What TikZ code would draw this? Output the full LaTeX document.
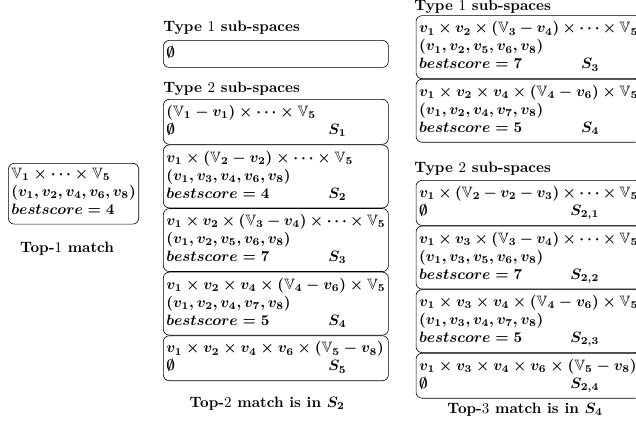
\documentclass[tikz,border=0pt]{standalone}
\usepackage{amsmath,amssymb}
\usepackage{tikz}
\usetikzlibrary{positioning}

% bestscore line with the sub-space name pushed to the right
\newcommand{\sublabel}[2]{\makebox[120pt][l]{#1}\llap{$#2$}}

\begin{document}
\begin{tikzpicture}[
  spacebox/.style={draw, rounded corners=4pt, inner xsep=2pt, inner ysep=3pt, text width=146pt, align=left, anchor=north west, font=\boldmath, execute at begin node=\strut, execute at end node=\strut},
  matchbox/.style={draw, rounded corners=4pt, inner xsep=2pt, inner ysep=3pt, align=left, anchor=north west, font=\boldmath, execute at begin node=\strut, execute at end node=\strut},
  typetext/.style={font=\bfseries, anchor=west, inner sep=0pt},
  captext/.style={font=\bfseries}
]
\useasboundingbox (0,0) rectangle (14.90,10.08);

% Top-1 match
\node[matchbox] (top1) at (0.19, 6.26) {$\mathbb{V}_1 \times \cdots \times \mathbb{V}_5$\\
  $(v_1, v_2, v_4, v_6, v_8)$\\
  $bestscore = 4$};
\node[captext] (cap1) at (1.57, 4.26) {Top-$1$ match};

% Sub-spaces of the top-1 match
\node[typetext] (mtype1) at (3.82, 9.42) {Type $1$ sub-spaces};
\node[spacebox] (mempty) at (3.82, 9.14) {$\emptyset$};

\node[typetext] (mtype2) at (3.82, 8.01) {Type $2$ sub-spaces};
\node[spacebox] (s1) at (3.82, 7.76) {$(\mathbb{V}_1 - v_1) \times \cdots \times \mathbb{V}_5$\\
  \sublabel{$\emptyset$}{S_1}};
\node[spacebox, below=0pt of s1] (s2) {$v_1 \times (\mathbb{V}_2 - v_2) \times \cdots \times \mathbb{V}_5$\\
  $(v_1, v_3, v_4, v_6, v_8)$\\
  \sublabel{$bestscore = 4$}{S_2}};
\node[spacebox, below=0pt of s2] (s3) {$v_1 \times v_2 \times (\mathbb{V}_3 - v_4) \times \cdots \times \mathbb{V}_5$\\
  $(v_1, v_2, v_5, v_6, v_8)$\\
  \sublabel{$bestscore = 7$}{S_3}};
\node[spacebox, below=0pt of s3] (s4) {$v_1 \times v_2 \times v_4 \times (\mathbb{V}_4 - v_6) \times \mathbb{V}_5$\\
  $(v_1, v_2, v_4, v_7, v_8)$\\
  \sublabel{$bestscore = 5$}{S_4}};
\node[spacebox, below=0pt of s4] (s5) {$v_1 \times v_2 \times v_4 \times v_6 \times (\mathbb{V}_5 - v_8)$\\
  \sublabel{$\emptyset$}{S_5}};
\node[captext] (cap2) at (6.26, 0.63) {Top-$2$ match is in $\boldsymbol{S_2}$};

% Sub-spaces of the top-2 match
\node[typetext] (rtype1) at (9.70, 9.93) {Type $1$ sub-spaces};
\node[spacebox] (r3) at (9.74, 9.72) {$v_1 \times v_2 \times (\mathbb{V}_3 - v_4) \times \cdots \times \mathbb{V}_5$\\
  $(v_1, v_2, v_5, v_6, v_8)$\\
  \sublabel{$bestscore = 7$}{S_3}};
\node[spacebox, below=0pt of r3] (r4) {$v_1 \times v_2 \times v_4 \times (\mathbb{V}_4 - v_6) \times \mathbb{V}_5$\\
  $(v_1, v_2, v_4, v_7, v_8)$\\
  \sublabel{$bestscore = 5$}{S_4}};

\node[typetext] (rtype2) at (9.70, 6.12) {Type $2$ sub-spaces};
\node[spacebox] (r21) at (9.74, 5.86) {$v_1 \times (\mathbb{V}_2 - v_2 - v_3) \times \cdots \times \mathbb{V}_5$\\
  \sublabel{$\emptyset$}{S_{2,1}}};
\node[spacebox, below=0pt of r21] (r22) {$v_1 \times v_3 \times (\mathbb{V}_3 - v_4) \times \cdots \times \mathbb{V}_5$\\
  $(v_1, v_3, v_5, v_6, v_8)$\\
  \sublabel{$bestscore = 7$}{S_{2,2}}};
\node[spacebox, below=0pt of r22] (r23) {$v_1 \times v_3 \times v_4 \times (\mathbb{V}_4 - v_6) \times \mathbb{V}_5$\\
  $(v_1, v_3, v_4, v_7, v_8)$\\
  \sublabel{$bestscore = 5$}{S_{2,3}}};
\node[spacebox, below=0pt of r23] (r24) {$v_1 \times v_3 \times v_4 \times v_6 \times (\mathbb{V}_5 - v_8)$\\
  \sublabel{$\emptyset$}{S_{2,4}}};
\node[captext] (cap3) at (12.30, 0.49) {Top-$3$ match is in $\boldsymbol{S_4}$};

\end{tikzpicture}
\end{document}
